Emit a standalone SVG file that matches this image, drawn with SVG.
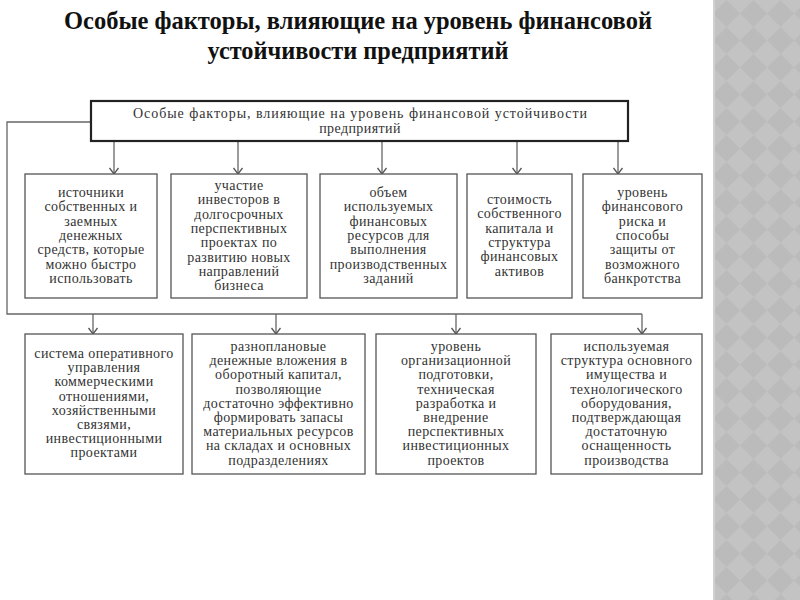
<svg xmlns="http://www.w3.org/2000/svg" width="800" height="600" viewBox="0 0 800 600">
<style>
.title{font-family:"Liberation Serif","Times New Roman",serif;font-weight:bold;font-size:25px;fill:#111;text-anchor:middle}
.box{fill:#fff;stroke:#555;stroke-width:1.3}
.main{fill:#fff;stroke:#222;stroke-width:2.2}
.t{font-family:"Liberation Serif","Times New Roman",serif;font-size:14px;letter-spacing:0.4px;fill:#333;text-anchor:middle}
.ln{fill:none;stroke:#666;stroke-width:1.3}
.arr{fill:none;stroke:#666;stroke-width:1.3;marker-end:url(#ah)}
</style>
<defs>
<marker id="ah" markerUnits="userSpaceOnUse" markerWidth="12" markerHeight="12" refX="7" refY="5" orient="auto" viewBox="0 0 12 10">
<path d="M1,0.5 L7,5 L1,9.5" fill="none" stroke="#555" stroke-width="1.3"/>
</marker>
<pattern id="diam" patternUnits="userSpaceOnUse" x="713" y="0" width="27" height="27">
<rect width="27" height="27" fill="#c3c3c3"/>
<polygon points="13.5,0 27,13.5 13.5,27 0,13.5" fill="#bbbbbb"/>
</pattern>
</defs>
<rect width="800" height="600" fill="#fff"/>
<rect x="713" y="0" width="87" height="600" fill="url(#diam)"/>
<rect x="713" y="0" width="2" height="600" fill="#d0d0d0"/>

<text class="title" x="358" y="29" textLength="588" lengthAdjust="spacingAndGlyphs">Особые факторы, влияющие на уровень финансовой</text>
<text class="title" x="358" y="59" textLength="301" lengthAdjust="spacingAndGlyphs">устойчивости предприятий</text>

<g id="connectors">
<polyline class="ln" points="91,122 7,122 7,314 642,314"/>
<line class="arr" x1="114" y1="141" x2="114" y2="174"/>
<line class="arr" x1="238" y1="141" x2="238" y2="174"/>
<line class="arr" x1="382" y1="141" x2="382" y2="174"/>
<line class="arr" x1="517" y1="141" x2="517" y2="174"/>
<line class="arr" x1="618" y1="141" x2="618" y2="174"/>
<line class="arr" x1="93" y1="314" x2="93" y2="334"/>
<line class="arr" x1="276" y1="314" x2="276" y2="334"/>
<line class="arr" x1="456" y1="314" x2="456" y2="334"/>
<line class="arr" x1="642" y1="314" x2="642" y2="334"/>
</g>

<g id="root">
<rect class="main" x="91" y="101" width="537" height="40"/>
<text class="t" x="360" y="118" textLength="454" lengthAdjust="spacing" style="letter-spacing:0">Особые факторы, влияющие на уровень финансовой устойчивости</text>
<text class="t" x="360" y="133">предприятий</text>
</g>

<g id="n1">
<rect class="box" x="25" y="174" width="132" height="124"/>
<text class="t" x="91" y="197"><tspan x="91">источники</tspan><tspan x="91" dy="14.3">собственных и</tspan><tspan x="91" dy="14.3">заемных</tspan><tspan x="91" dy="14.3">денежных</tspan><tspan x="91" dy="14.3">средств, которые</tspan><tspan x="91" dy="14.3">можно быстро</tspan><tspan x="91" dy="14.3">использовать</tspan></text>
</g>
<g id="n2">
<rect class="box" x="171" y="174" width="136" height="124"/>
<text class="t" x="239" y="190"><tspan x="239">участие</tspan><tspan x="239" dy="14.3">инвесторов в</tspan><tspan x="239" dy="14.3">долгосрочных</tspan><tspan x="239" dy="14.3">перспективных</tspan><tspan x="239" dy="14.3">проектах по</tspan><tspan x="239" dy="14.3">развитию новых</tspan><tspan x="239" dy="14.3">направлений</tspan><tspan x="239" dy="14.3">бизнеса</tspan></text>
</g>
<g id="n3">
<rect class="box" x="320" y="174" width="137" height="124"/>
<text class="t" x="388.5" y="197"><tspan x="388.5">объем</tspan><tspan x="388.5" dy="14.3">используемых</tspan><tspan x="388.5" dy="14.3">финансовых</tspan><tspan x="388.5" dy="14.3">ресурсов для</tspan><tspan x="388.5" dy="14.3">выполнения</tspan><tspan x="388.5" dy="14.3">производственных</tspan><tspan x="388.5" dy="14.3">заданий</tspan></text>
</g>
<g id="n4">
<rect class="box" x="467" y="174" width="105" height="124"/>
<text class="t" x="519.5" y="204"><tspan x="519.5">стоимость</tspan><tspan x="519.5" dy="14.3">собственного</tspan><tspan x="519.5" dy="14.3">капитала и</tspan><tspan x="519.5" dy="14.3">структура</tspan><tspan x="519.5" dy="14.3">финансовых</tspan><tspan x="519.5" dy="14.3">активов</tspan></text>
</g>
<g id="n5">
<rect class="box" x="583" y="174" width="119" height="124"/>
<text class="t" x="642.5" y="197"><tspan x="642.5">уровень</tspan><tspan x="642.5" dy="14.3">финансового</tspan><tspan x="642.5" dy="14.3">риска и</tspan><tspan x="642.5" dy="14.3">способы</tspan><tspan x="642.5" dy="14.3">защиты от</tspan><tspan x="642.5" dy="14.3">возможного</tspan><tspan x="642.5" dy="14.3">банкротства</tspan></text>
</g>

<g id="n6">
<rect class="box" x="25" y="334" width="158" height="140"/>
<text class="t" x="104" y="358"><tspan x="104">система оперативного</tspan><tspan x="104" dy="14.2">управления</tspan><tspan x="104" dy="14.2">коммерческими</tspan><tspan x="104" dy="14.2">отношениями,</tspan><tspan x="104" dy="14.2">хозяйственными</tspan><tspan x="104" dy="14.2">связями,</tspan><tspan x="104" dy="14.2">инвестиционными</tspan><tspan x="104" dy="14.2">проектами</tspan></text>
</g>
<g id="n7">
<rect class="box" x="192" y="334" width="173" height="140"/>
<text class="t" x="278.5" y="351"><tspan x="278.5">разноплановые</tspan><tspan x="278.5" dy="14.2">денежные вложения в</tspan><tspan x="278.5" dy="14.2">оборотный капитал,</tspan><tspan x="278.5" dy="14.2">позволяющие</tspan><tspan x="278.5" dy="14.2">достаточно эффективно</tspan><tspan x="278.5" dy="14.2">формировать запасы</tspan><tspan x="278.5" dy="14.2">материальных ресурсов</tspan><tspan x="278.5" dy="14.2">на складах и основных</tspan><tspan x="278.5" dy="14.2">подразделениях</tspan></text>
</g>
<g id="n8">
<rect class="box" x="376" y="334" width="160" height="140"/>
<text class="t" x="456" y="351"><tspan x="456">уровень</tspan><tspan x="456" dy="14.2">организационной</tspan><tspan x="456" dy="14.2">подготовки,</tspan><tspan x="456" dy="14.2">техническая</tspan><tspan x="456" dy="14.2">разработка и</tspan><tspan x="456" dy="14.2">внедрение</tspan><tspan x="456" dy="14.2">перспективных</tspan><tspan x="456" dy="14.2">инвестиционных</tspan><tspan x="456" dy="14.2">проектов</tspan></text>
</g>
<g id="n9">
<rect class="box" x="551" y="334" width="151" height="140"/>
<text class="t" x="626.5" y="351"><tspan x="626.5">используемая</tspan><tspan x="626.5" dy="14.2">структура основного</tspan><tspan x="626.5" dy="14.2">имущества и</tspan><tspan x="626.5" dy="14.2">технологического</tspan><tspan x="626.5" dy="14.2">оборудования,</tspan><tspan x="626.5" dy="14.2">подтверждающая</tspan><tspan x="626.5" dy="14.2">достаточную</tspan><tspan x="626.5" dy="14.2">оснащенность</tspan><tspan x="626.5" dy="14.2">производства</tspan></text>
</g>
</svg>
